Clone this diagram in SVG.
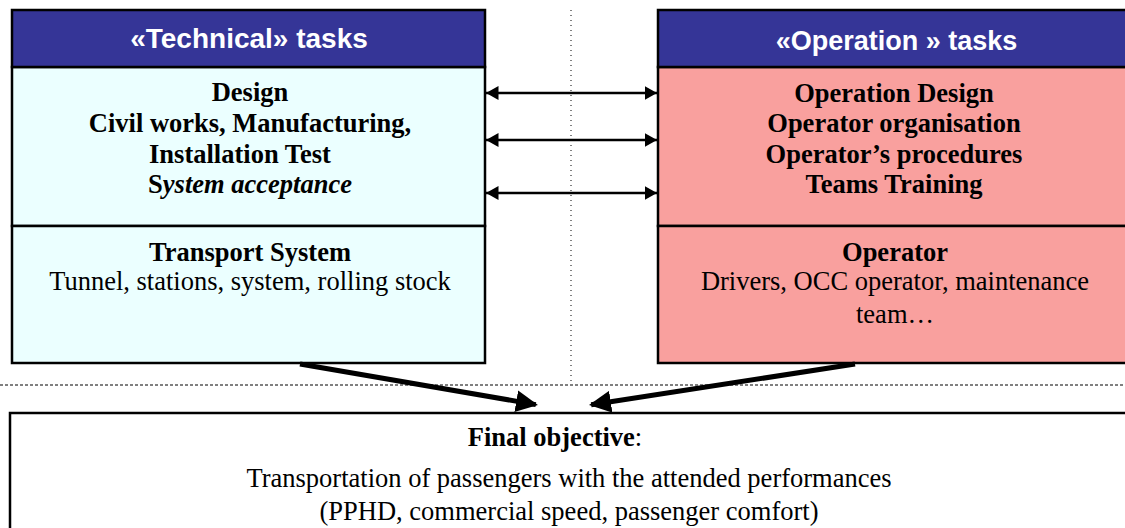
<svg xmlns="http://www.w3.org/2000/svg" width="1125" height="528" viewBox="0 0 1125 528">
<defs>
<style>
.box{stroke:#000;stroke-width:2.5}
.hdr{fill:#353597;stroke:#000;stroke-width:2.5}
.ht{font-family:"Liberation Sans",Arial,sans-serif;font-weight:bold;fill:#fff;text-anchor:middle}
.t{font-family:"Liberation Serif","Times New Roman",serif;font-size:26.5px;fill:#000;text-anchor:middle}
.b{font-weight:bold}
.dbl{stroke:#000;stroke-width:2.5;fill:none;marker-start:url(#ah);marker-end:url(#ah)}
.thick{stroke:#000;stroke-width:5;fill:none;marker-end:url(#big)}
</style>
<marker id="ah" viewBox="0 0 10 10" refX="10" refY="5" markerWidth="5" markerHeight="5.6" orient="auto-start-reverse" markerUnits="strokeWidth" preserveAspectRatio="none"><path d="M0,0 L10,5 L0,10 z" fill="#000"/></marker>
<marker id="big" viewBox="0 0 10 10" refX="9" refY="5" markerWidth="4.4" markerHeight="4.4" orient="auto" markerUnits="strokeWidth"><path d="M0,0 L10,5 L0,10 z" fill="#000"/></marker>
</defs>
<g id="separators">
<line x1="571" y1="10" x2="571" y2="385" stroke="#000" stroke-width="1" stroke-dasharray="1,4"/>
<line x1="0" y1="385" x2="1125" y2="385" stroke="#000" stroke-width="1" stroke-dasharray="3,2"/>
</g>
<g id="technical">
<rect class="box" x="12" y="67" width="473" height="159" fill="#EBFFFF"/>
<rect class="box" x="12" y="226" width="473" height="137" fill="#EBFFFF"/>
<rect class="hdr" x="12" y="10" width="473" height="57"/>
<text class="ht" x="249" y="48" font-size="28">«Technical» tasks</text>
<text class="t b" x="250" y="101">Design</text>
<text class="t b" x="250" y="132">Civil works, Manufacturing,</text>
<text class="t b" x="240" y="163">Installation Test</text>
<text class="t b" x="250" y="193">S<tspan font-style="italic">ystem acceptance</tspan></text>
<text class="t b" x="250" y="261">Transport System</text>
<text class="t" x="250" y="290">Tunnel, stations, system, rolling stock</text>
</g>
<g id="operation">
<rect class="box" x="658" y="67" width="470" height="159" fill="#F9A09E"/>
<rect class="box" x="658" y="226" width="470" height="137" fill="#F9A09E"/>
<rect class="hdr" x="658" y="10" width="470" height="57"/>
<text class="ht" x="896.5" y="50" font-size="27">«Operation » tasks</text>
<text class="t b" x="894" y="102">Operation Design</text>
<text class="t b" x="894" y="132">Operator organisation</text>
<text class="t b" x="894" y="163">Operator’s procedures</text>
<text class="t b" x="894" y="193">Teams Training</text>
<text class="t b" x="895" y="261">Operator</text>
<text class="t" x="895" y="290">Drivers, OCC operator, maintenance</text>
<text class="t" x="895" y="323">team…</text>
</g>
<g id="objective">
<rect class="box" x="10" y="413" width="1125" height="130" fill="#fff"/>
<text class="t" x="555" y="446"><tspan font-weight="bold">Final objective</tspan>:</text>
<text class="t" x="569" y="487">Transportation of passengers with the attended performances</text>
<text class="t" x="569" y="520">(PPHD, commercial speed, passenger comfort)</text>
</g>
<g id="connectors">
<line class="dbl" x1="486" y1="93" x2="657" y2="93"/>
<line class="dbl" x1="486" y1="140" x2="657" y2="140"/>
<line class="dbl" x1="486" y1="193" x2="657" y2="193"/>
<line class="thick" x1="300" y1="364" x2="535.8" y2="404.6"/>
<line class="thick" x1="855" y1="364" x2="591.2" y2="404.7"/>
</g>
</svg>
